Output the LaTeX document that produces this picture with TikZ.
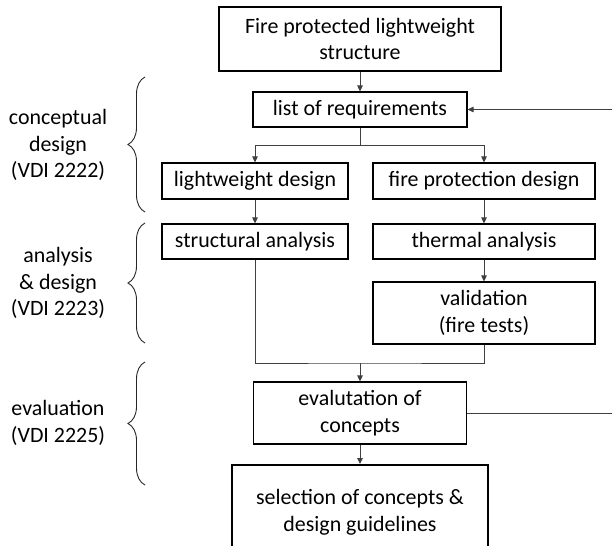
\documentclass[tikz,border=0pt]{standalone}
\usepackage{fontspec}
\setmainfont{Carlito}
\usetikzlibrary{arrows.meta,decorations.pathreplacing}
\begin{document}
\begin{tikzpicture}[x=1bp,y=-1bp,
  txt/.style={font=\fontsize{22}{27}\selectfont,align=center,inner sep=0pt},
  box/.style={txt,draw=black,line width=1.1bp},
  thickbox/.style={box,line width=2bp},
  conn/.style={draw=black!75,line width=0.9bp},
  arr/.style={conn,-{Triangle[length=6bp,width=5.5bp]}},
  bracedec/.style={draw=black!85,line width=0.9bp,decorate,decoration={brace,amplitude=17bp}}]
\clip (0,0) rectangle (612,546);
% boxes
\node[thickbox,minimum width=282bp,minimum height=64bp] (top) at (360,39) {Fire protected lightweight\\structure};
\node[box,minimum width=214bp,minimum height=35bp] (list) at (360,109.5) {list of requirements};
\node[box,minimum width=186bp,minimum height=36bp] (lwd) at (255,181) {lightweight design};
\node[box,minimum width=222bp,minimum height=36bp] (fpd) at (484,181) {fire protection design};
\node[box,minimum width=186bp,minimum height=35bp] (sa) at (255,241.5) {structural analysis};
\node[box,minimum width=222bp,minimum height=35bp] (ta) at (484,241.5) {thermal analysis};
\node[box,minimum width=222bp,minimum height=62bp] (val) at (484,313) {validation\\(fire tests)};
\node[box,minimum width=213bp,minimum height=62bp] (eval) at (360,413) {evalutation of\\concepts};
\node[thickbox,minimum width=256bp,minimum height=94bp] (sel) at (360,512) {selection of concepts \&\\design guidelines};
% labels
\node[txt] (l1) at (58,145) {conceptual\\design\\(VDI 2222)};
\node[txt] (l2) at (58,283) {analysis\\\& design\\(VDI 2223)};
\node[txt] (l3) at (58,423) {evaluation\\(VDI 2225)};
% braces
\draw[bracedec] (145,212) -- (145,77);
\draw[bracedec] (145,343) -- (145,223);
\draw[bracedec] (145,485) -- (145,362);
% connectors
\coordinate (split) at (360,145);
\coordinate (join) at (360,363);
\coordinate (fbin) at (612,109.5);
\coordinate (fbout) at (612,413);
\draw[arr] (top) -- (list);
\draw[conn] (list) -- (split);
\draw[arr] (split) -| (lwd);
\draw[arr] (split) -| (fpd);
\draw[arr] (fbin) -- (list);
\draw[arr] (lwd) -- (sa);
\draw[arr] (fpd) -- (ta);
\draw[arr] (ta) -- (val);
\draw[conn] (sa) |- (join) -| (val);
\draw[arr] (join) -- (eval);
\draw[conn] (eval) -- (fbout);
\draw[arr] (eval) -- (sel);
\end{tikzpicture}
\end{document}
